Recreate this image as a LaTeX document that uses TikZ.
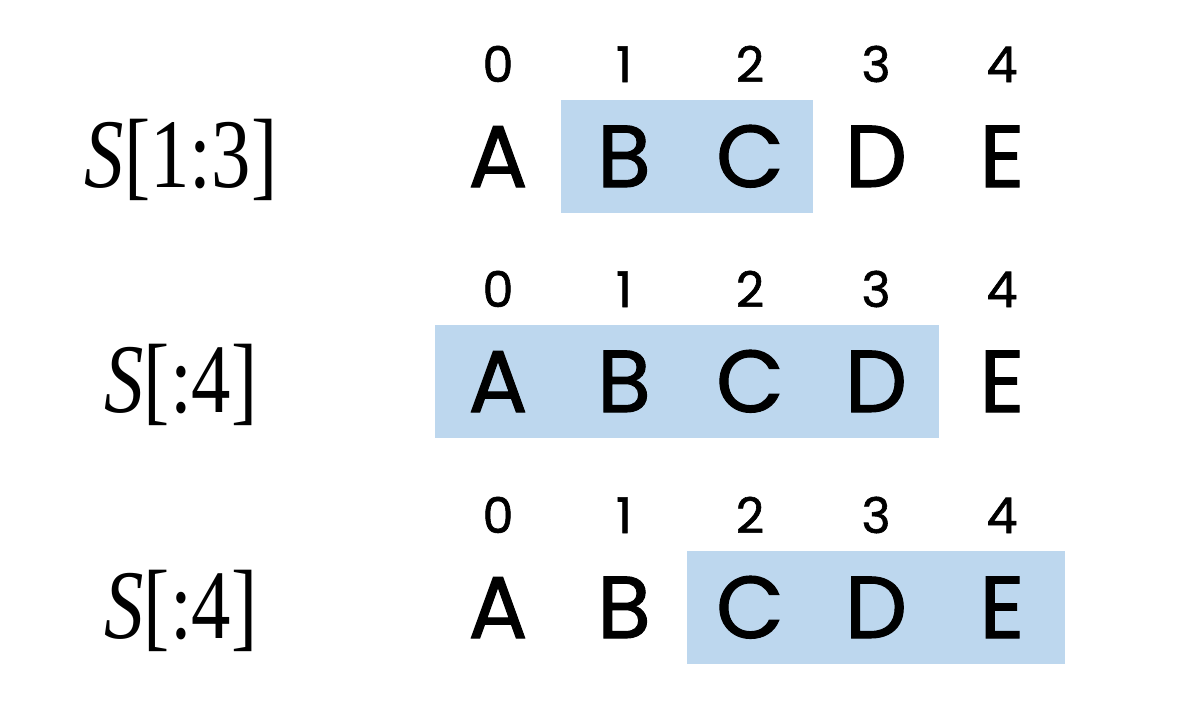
\documentclass[tikz,border=0pt]{standalone}
\usepackage{fontspec}
\usepackage{graphicx}
\setmainfont{Liberation Serif}
\newfontfamily\cellfont{Poppins}[FakeBold=1.2]
\definecolor{slicebg}{HTML}{BDD7EE}
\tikzset{
  letter/.style={font=\cellfont\fontsize{25}{25}\selectfont, anchor=base, inner sep=0pt},
  index/.style={font=\cellfont\fontsize{14}{14}\selectfont, anchor=base, inner sep=0pt},
  slicename/.style={font=\fontsize{28}{28}\selectfont, anchor=base, inner sep=0pt},
  slice/.style={fill=slicebg}
}

\begin{document}
\begin{tikzpicture}[x=0.01cm, y=-0.01cm]
    \useasboundingbox (0,0) rectangle (1200,718);
    % Rows: number / baseline / first and last highlighted cell / label
    \foreach \r/\y/\lo/\hi/\txt in {1/187/1/2/{\textit{S}[1:3]},
                                    2/412/0/3/{\textit{S}[:4]},
                                    3/638/2/4/{\textit{S}[:4]}} {
        \fill [slice] (435+126*\lo,\y-87) rectangle (561+126*\hi,\y+26);
        \node [slicename] (name\r) at (181,\y) {\scalebox{0.8}[1]{\txt}};
        % Cells
        \foreach \c/\ch in {0/A, 1/B, 2/C, 3/D, 4/E} {
            \node [letter] (cell\r\c) at (498+126*\c,\y) {\ch};
            \node [index] (idx\r\c) at (498+126*\c,\y-105) {\c};
        }
    }
\end{tikzpicture}
\end{document}
